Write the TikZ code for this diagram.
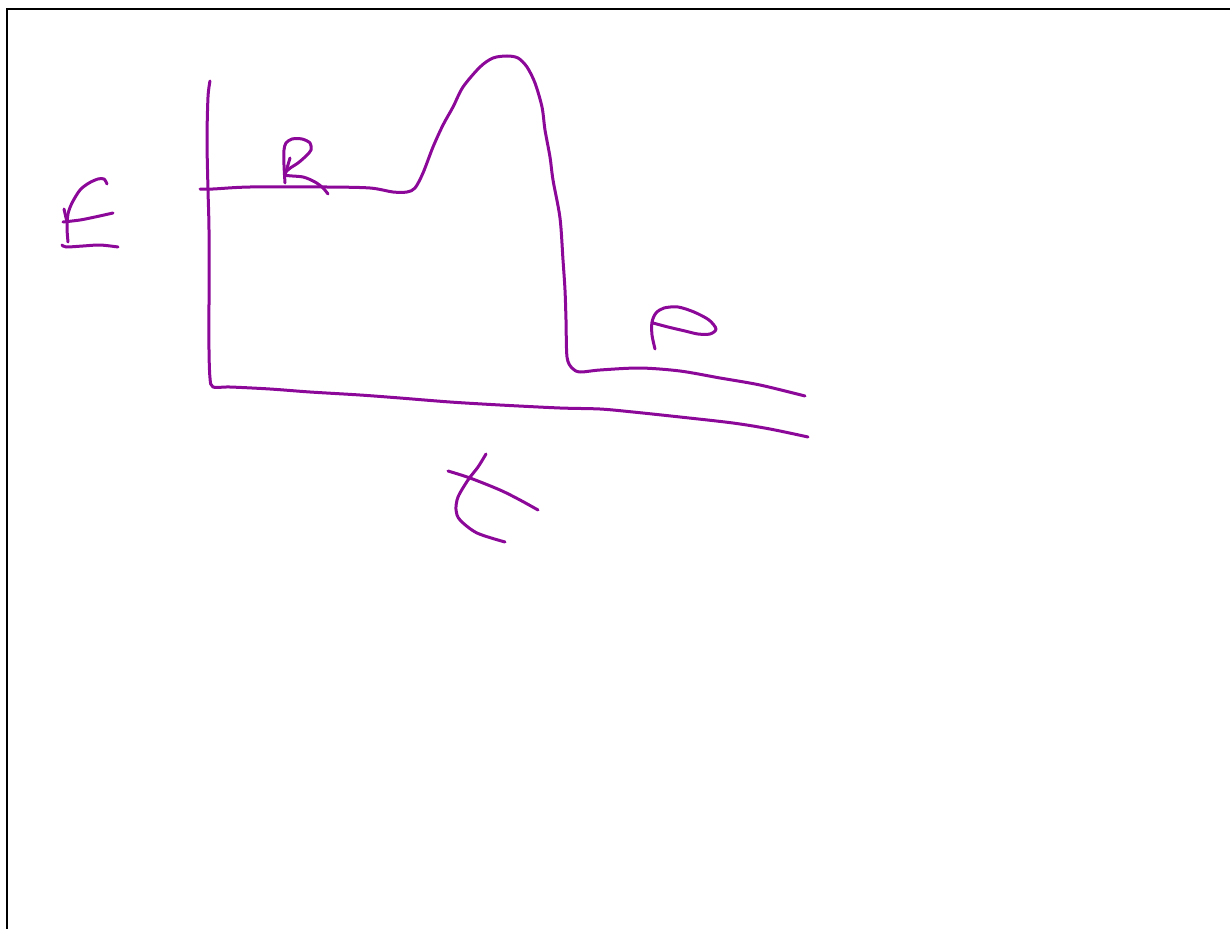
\documentclass[tikz,border=0pt]{standalone}
\definecolor{inkpurple}{RGB}{140,8,152}
\begin{document}
\begin{tikzpicture}[x=1pt,y=-1pt,
  ink/.style={draw=inkpurple, line width=3pt, line cap=round, line join=round},
  frame/.style={draw=black, line width=2.5pt}]
\useasboundingbox (0,0) rectangle (1230,928);
% frame
\draw[frame] (7,930) -- (7,9) -- (1232,9);
% y axis and x axis
\draw[ink] plot[smooth] coordinates {(210,81) (208,97) (207,140) (208,190) (209,230) (209,300) (209,350) (210,378) (213,387) (230,387) (270,389) (310,392) (360,395) (400,398) (450,402) (500,405) (560,408) (600,409) (633,412) (680,417) (733,423) (770,429) (808,437)};
% energy curve
\draw[ink] plot[smooth] coordinates {(200,189) (213,189) (250,187) (327,187) (370,188) (393,192) (407,192) (415,188) (423,173) (433,147) (443,125) (453,107) (463,87) (480,67) (493,58) (507,56) (518,58) (527,67) (535,83) (542,107) (545,130) (550,157) (553,180) (560,218) (563,260) (565,290) (566,320) (567,357) (572,368) (580,372) (600,370) (640,368) (680,371) (720,378) (760,385) (805,396)};
% E
\draw[ink] plot[smooth] coordinates {(107,184) (104,179) (98,179) (89,183) (80,190) (72,203) (68,214) (67,228) (68,242)};
\draw[ink] (64,209) -- (67,222);
\draw[ink] plot[smooth] coordinates {(63,222) (80,220) (95,217) (113,213)};
\draw[ink] plot[smooth] coordinates {(62,245) (66,247) (83,246) (100,245) (118,247)};
% R
\draw[ink] plot[smooth] coordinates {(285,183) (284,165) (284,150) (286,143) (292,139) (302,139) (310,143) (311,150) (306,156) (298,163) (289,169) (285,175) (303,177) (315,182) (323,188) (328,194)};
\draw[ink] (290,158) -- (285,175);
% P
\draw[ink] plot[smooth] coordinates {(655,349) (652,335) (652,322) (656,313) (664,308) (678,307) (694,312) (709,320) (716,329) (710,334) (698,334) (685,331) (668,327) (653,323)};
% t
\draw[ink] plot[smooth] coordinates {(448,471) (470,478) (500,490) (520,500) (538,510)};
\draw[ink] plot[smooth] coordinates {(486,454) (478,467) (468,480) (458,497) (456,510) (460,520) (477,533) (505,542)};
\end{tikzpicture}
\end{document}
